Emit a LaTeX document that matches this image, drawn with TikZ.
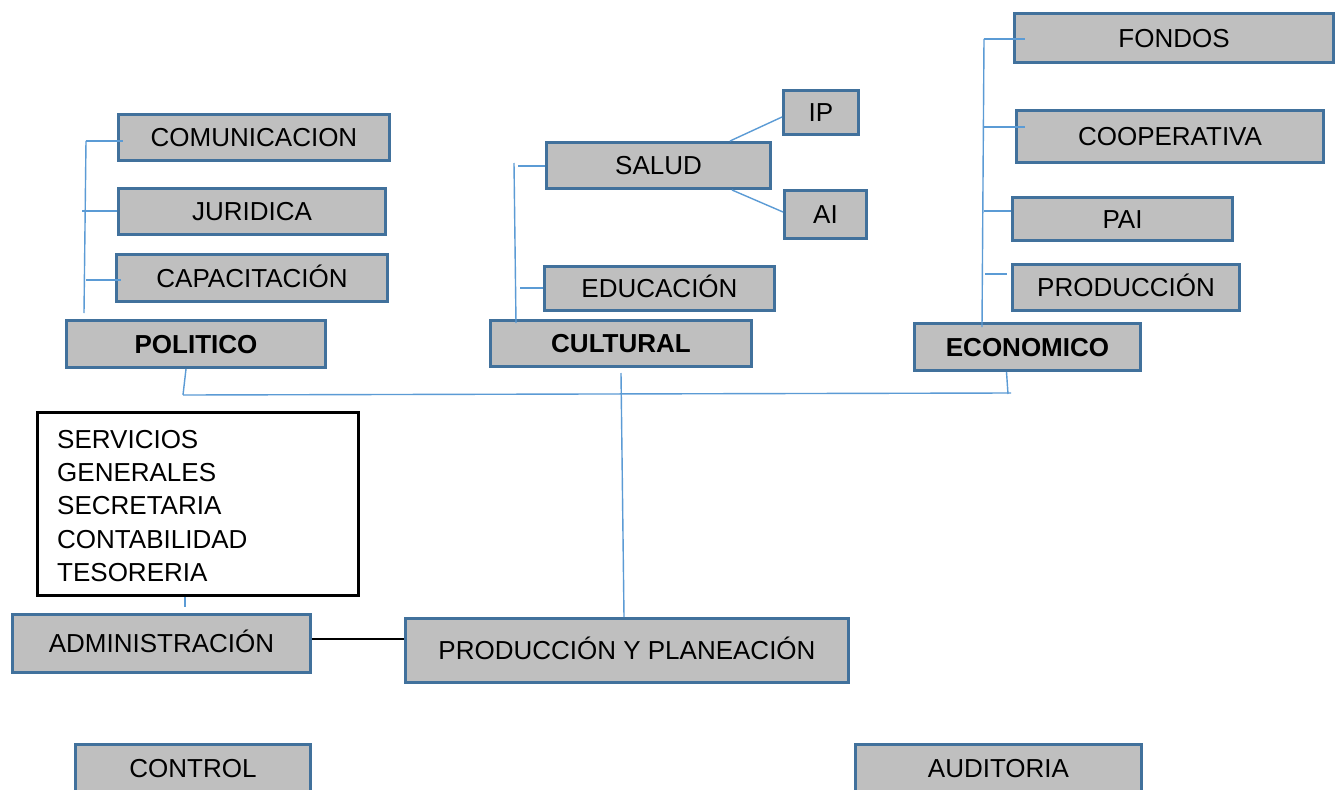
\documentclass[tikz,border=0pt]{standalone}
\usepackage{fontspec}
\setmainfont{Liberation Sans}
\definecolor{boxedge}{HTML}{41719C}
\definecolor{boxfill}{HTML}{BFBFBF}
\definecolor{connblue}{HTML}{5B9BD5}
\begin{document}
\begin{tikzpicture}[x=1pt,y=-1pt,
  box/.style={draw=boxedge, line width=3pt, fill=boxfill, inner sep=0pt,
    text height=18.6pt, text depth=0pt, font=\fontsize{26}{31}\selectfont},
  bbox/.style={box, font=\fontsize{26}{31}\selectfont\bfseries},
  conn/.style={draw=connblue, line width=1.4pt},
  plain/.style={anchor=base west, inner sep=0pt, font=\fontsize{26}{31}\selectfont}]
\clip (0,0) rectangle (1342,790);
\fill[white] (0,0) rectangle (1342,790);
% POLITICO group
\node[box, minimum width=271pt, minimum height=46pt] (com) at (254,137.5) {COMUNICACION};
\node[box, minimum width=267pt, minimum height=46pt] (jur) at (252,211.5) {JURIDICA};
\node[box, minimum width=271pt, minimum height=47pt] (cap) at (252,278) {CAPACITACIÓN};
\node[bbox, minimum width=259pt, minimum height=47pt] (pol) at (196,344) {POLITICO};
% CULTURAL group
\node[box, minimum width=75pt, minimum height=44pt] (ip) at (821,112.5) {IP};
\node[box, minimum width=224pt, minimum height=46pt] (sal) at (658.5,165.5) {SALUD};
\node[box, minimum width=82pt, minimum height=48pt] (ai) at (825.5,214.5) {AI};
\node[box, minimum width=230pt, minimum height=44pt] (edu) at (659.5,288.5) {EDUCACIÓN};
\node[bbox, minimum width=261pt, minimum height=46pt] (cul) at (621,343.5) {CULTURAL};
% ECONOMICO group
\node[box, minimum width=319pt, minimum height=49pt] (fon) at (1174,38) {FONDOS};
\node[box, minimum width=307pt, minimum height=52pt] (coop) at (1170,136.5) {COOPERATIVA};
\node[box, minimum width=220pt, minimum height=43pt] (pai) at (1122.5,219) {PAI};
\node[box, minimum width=227pt, minimum height=46pt] (prd) at (1126,287.5) {PRODUCCIÓN};
\node[bbox, minimum width=226pt, minimum height=47pt] (eco) at (1027.5,347) {ECONOMICO};
% services box
\node[draw=black, line width=2.6pt, fill=white, minimum width=321pt, minimum height=183pt, inner sep=0pt] (svc) at (198,504) {};
\node[plain] (s1) at (57,448) {SERVICIOS};
\node[plain] (s2) at (57,481) {GENERALES};
\node[plain] (s3) at (57,514) {SECRETARIA};
\node[plain] (s4) at (57,548) {CONTABILIDAD};
\node[plain] (s5) at (57,581) {TESORERIA};
% lower boxes
\node[box, minimum width=298pt, minimum height=58pt] (adm) at (161.5,643.5) {ADMINISTRACIÓN};
\node[box, minimum width=443pt, minimum height=64pt] (prod) at (627,650.5) {PRODUCCIÓN Y PLANEACIÓN};
\node[box, minimum width=235pt, minimum height=48pt] (ctl) at (193,768.5) {CONTROL};
\node[box, minimum width=286pt, minimum height=48pt] (aud) at (998.5,768.5) {AUDITORIA};
% coordinates
\coordinate (pt) at (86,141);
\coordinate (pb) at (84,313);
\coordinate (pj) at (82,211);
\coordinate (pc) at (86,280);
\coordinate (bl) at (183,395);
\coordinate (br) at (1011,393);
\coordinate (be) at (1008,394);
\coordinate (ct) at (621,373);
\coordinate (ctop) at (514,163);
\coordinate (cbot) at (516,323);
\coordinate (cs) at (518,166);
\coordinate (ce) at (520,288);
\coordinate (et) at (984,39);
\coordinate (eb) at (982,327);
\coordinate (ec) at (984,127);
\coordinate (ep) at (984,211);
\coordinate (epr) at (985,274);
\coordinate (sa) at (185,607);
\coordinate (ap) at (0,639);
% POLITICO connectors
\draw[conn] (pt) -- (pb);
\draw[conn] (pt) -- ([xshift=5.5pt]com.west |- pt);
\draw[conn] (pj) -- (jur.west |- pj);
\draw[conn] (pc) -- ([xshift=5.5pt]cap.west |- pc);
\draw[conn] ([xshift=-10pt]pol.south) -- (bl);
% bus
\draw[conn] (bl) -- (br);
\draw[conn] ([xshift=-21pt]eco.south) -- (be);
\draw[conn] (ct) -- ([xshift=-3pt]prod.north);
% CULTURAL connectors
\draw[conn] (ctop) -- (cbot);
\draw[conn] (cs) -- (sal.west |- cs);
\draw[conn] (ce) -- (edu.west |- ce);
\draw[conn] ([xshift=71.5pt]sal.north) -- ([yshift=-4.5pt]ip.west);
\draw[conn] ([xshift=73.5pt]sal.south) -- ([yshift=2.5pt]ai.west);
% ECONOMICO connectors
\draw[conn] (et) -- (eb);
\draw[conn] (et) -- ([xshift=12pt]fon.west |- et);
\draw[conn] (ec) -- ([xshift=10pt]coop.west |- ec);
\draw[conn] (ep) -- (pai.west |- ep);
\draw[conn] (epr) -- ([xshift=-4pt]prd.west |- epr);
% administration
\draw[conn] ([xshift=-13pt]svc.south) -- (sa);
\draw[black, line width=1.5pt] (adm.east |- ap) -- (prod.west |- ap);
\end{tikzpicture}
\end{document}
